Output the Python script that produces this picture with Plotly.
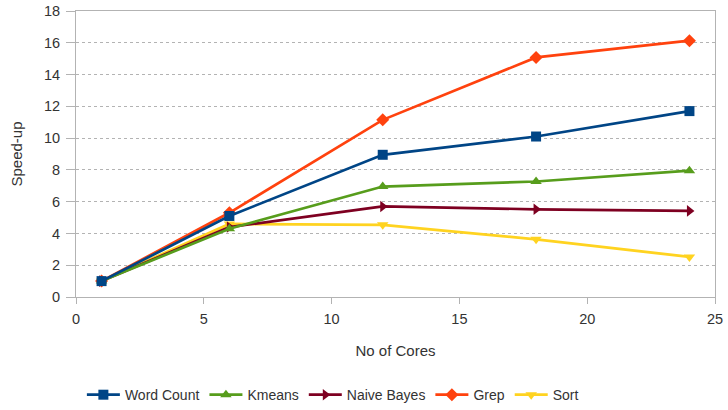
import plotly.graph_objects as go

cores = [1, 6, 12, 18, 24]
word_count = [1.0, 5.1, 8.95, 10.1, 11.7]
kmeans = [1.0, 4.3, 6.95, 7.27, 7.95]
naive_bayes = [1.0, 4.4, 5.7, 5.52, 5.42]
grep = [1.0, 5.3, 11.15, 15.08, 16.13]
sort_ = [1.0, 4.6, 4.54, 3.63, 2.52]

series = [
    ("Word Count", word_count, "#004586", "square"),
    ("Kmeans", kmeans, "#579d1c", "triangle-up"),
    ("Naive Bayes", naive_bayes, "#7e0021", "triangle-right"),
    ("Grep", grep, "#ff420e", "diamond"),
    ("Sort", sort_, "#ffd320", "triangle-down"),
]

fig = go.Figure()
# add in reverse so Word Count is drawn on top; legend order reversed back
for name, vals, color, sym in reversed(series):
    fig.add_trace(go.Scatter(
        x=cores, y=vals, name=name, mode="lines+markers",
        line=dict(color=color, width=2.7),
        marker=dict(symbol=sym, size=10, color=color),
    ))

fam = "Liberation Sans, Arial, sans-serif"
fig.update_layout(
    width=728, height=410,
    margin=dict(l=76, r=13, t=11, b=113, autoexpand=False),
    paper_bgcolor="white", plot_bgcolor="white",
    font=dict(family=fam, size=14, color="#333333"),
    showlegend=True,
    legend=dict(orientation="h", x=0.402, xanchor="center", y=-0.343, yanchor="middle",
                font=dict(size=14), tracegroupgap=0, itemwidth=33, traceorder="reversed"),
    xaxis=dict(
        range=[0, 25], dtick=5, showgrid=False, zeroline=False,
        showline=True, linecolor="#b3b3b3", mirror=True, automargin=False,
        ticks="outside", ticklen=6, tickcolor="#b3b3b3", ticklabelstandoff=3,
        tickfont=dict(size=14.5, color="#333333"),
        title=dict(text="No of Cores", font=dict(size=15), standoff=19),
    ),
    yaxis=dict(
        range=[0, 18], dtick=2, showgrid=True, gridcolor="#b3b3b3", griddash="dot",
        zeroline=False, showline=True, linecolor="#b3b3b3", mirror=True, automargin=False,
        ticks="outside", ticklen=9, tickcolor="#b3b3b3", ticklabelstandoff=3,
        tickfont=dict(size=14.5, color="#333333"),
        title=dict(text="Speed-up", font=dict(size=15), standoff=17),
    ),
)

fig.write_html("out.html", config={"displayModeBar": False},
               post_script="document.body.style.margin='0';")
